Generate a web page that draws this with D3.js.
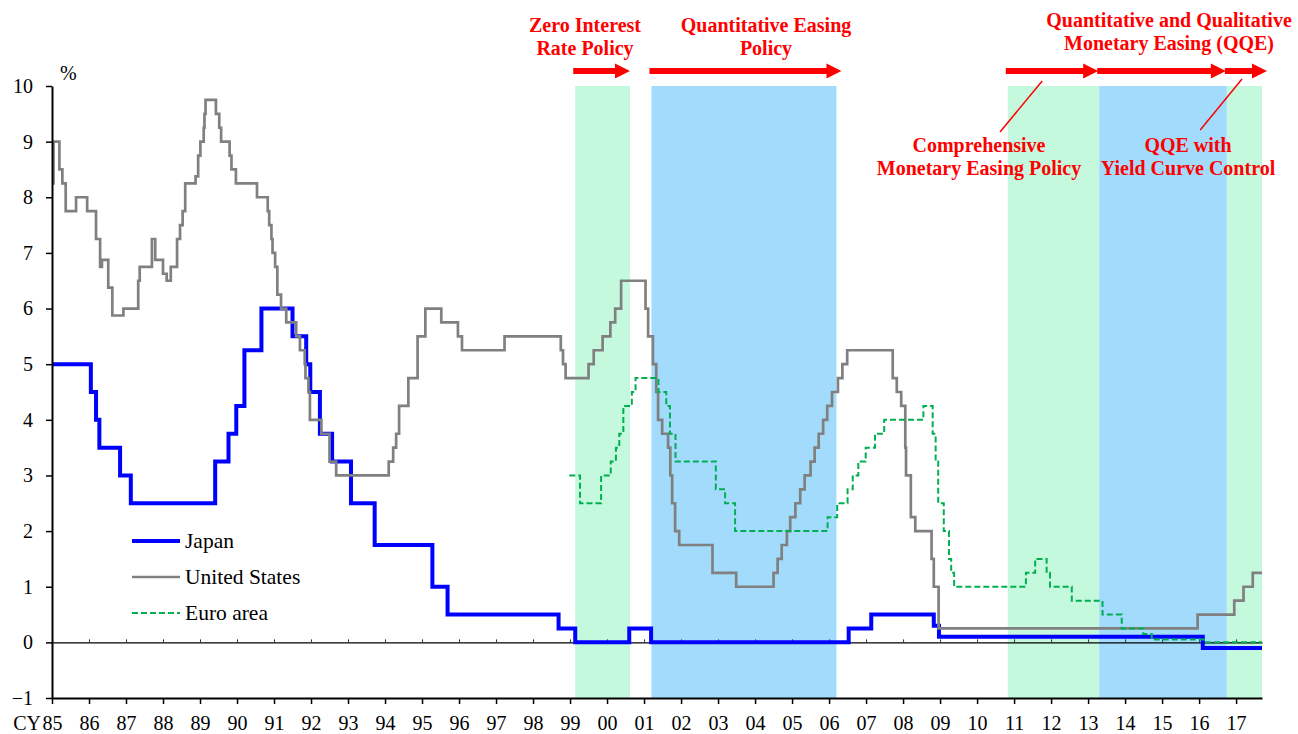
<!DOCTYPE html>
<html>
<head>
<meta charset="utf-8">
<script src="https://cdn.jsdelivr.net/npm/d3@7"></script>
<style>
  body { margin: 0; background: #fff; }
  svg text { font-family: "Liberation Serif", "Times New Roman", serif; }
</style>
</head>
<body>
<div id="chart"></div>
<script>
// policy rates, step series (decimal year of change, rate in %)
var jpDates = [1985.0, 1986.05, 1986.19, 1986.28, 1986.84, 1987.13, 1989.41, 1989.77, 1989.98, 1990.2, 1990.66,
  1991.5, 1991.87, 1991.98, 1992.24, 1992.57, 1993.08, 1993.72, 1995.28, 1995.69, 1998.69, 1999.14, 2000.6,
  2001.19, 2006.53, 2007.14, 2008.83, 2008.97, 2016.1];
var jpRates = [5.0, 4.5, 4.0, 3.5, 3.0, 2.5, 3.25, 3.75, 4.25, 5.25, 6.0,
  5.5, 5.0, 4.5, 3.75, 3.25, 2.5, 1.75, 1.0, 0.5, 0.25, 0.0, 0.25,
  0.0, 0.25, 0.5, 0.3, 0.1, -0.1];

var usDates = [1985.0, 1985.04, 1985.2, 1985.28, 1985.37, 1985.65, 1985.95, 1986.19, 1986.3, 1986.35, 1986.52,
  1986.63, 1986.93, 1987.33, 1987.37, 1987.7, 1987.79, 1988.0, 1988.1, 1988.21, 1988.38, 1988.46, 1988.53,
  1988.6, 1988.88, 1988.95, 1989.01, 1989.1, 1989.12, 1989.15, 1989.43, 1989.52, 1989.57, 1989.8, 1989.85,
  1989.97, 1990.54, 1990.83, 1990.87, 1990.93, 1990.96, 1991.03, 1991.09, 1991.19, 1991.33, 1991.6, 1991.7,
  1991.83, 1991.85, 1991.93, 1991.97, 1992.28, 1992.5, 1992.68, 1994.1, 1994.22, 1994.3, 1994.38, 1994.63,
  1994.88, 1995.09, 1995.52, 1995.97, 1996.08, 1997.23, 1998.75, 1998.81, 1998.88, 1999.5, 1999.64, 1999.88,
  2000.09, 2000.22, 2000.38, 2001.04, 2001.11, 2001.24, 2001.33, 2001.38, 2001.49, 2001.65, 2001.71, 2001.76,
  2001.84, 2001.95, 2002.85, 2003.49, 2004.5, 2004.61, 2004.72, 2004.86, 2004.95, 2005.09, 2005.22, 2005.34,
  2005.5, 2005.61, 2005.72, 2005.84, 2005.95, 2006.08, 2006.24, 2006.36, 2006.49, 2007.72, 2007.83, 2007.95,
  2008.06, 2008.08, 2008.21, 2008.33, 2008.77, 2008.83, 2008.96, 2015.96, 2016.95, 2017.2, 2017.45];
var usRates = [8.25, 9.0, 8.5, 8.25, 7.75, 8.0, 7.75, 7.25, 6.75, 6.875, 6.375,
  5.875, 6.0, 6.5, 6.75, 7.25, 6.875, 6.625, 6.5, 6.75, 7.25, 7.5, 7.75,
  8.25, 8.375, 8.75, 9.0, 9.25, 9.5, 9.75, 9.5, 9.25, 9.0, 8.75, 8.5,
  8.25, 8.0, 7.75, 7.5, 7.25, 7.0, 6.75, 6.25, 6.0, 5.75, 5.5, 5.25,
  5.0, 4.75, 4.5, 4.0, 3.75, 3.25, 3.0, 3.25, 3.5, 3.75, 4.25, 4.75,
  5.5, 6.0, 5.75, 5.5, 5.25, 5.5, 5.25, 5.0, 4.75, 5.0, 5.25, 5.5,
  5.75, 6.0, 6.5, 6.0, 5.5, 5.0, 4.5, 4.0, 3.75, 3.5, 3.0, 2.5,
  2.0, 1.75, 1.25, 1.0, 1.25, 1.5, 1.75, 2.0, 2.25, 2.5, 2.75, 3.0,
  3.25, 3.5, 3.75, 4.0, 4.25, 4.5, 4.75, 5.0, 5.25, 4.75, 4.5, 4.25,
  3.5, 3.0, 2.25, 2.0, 1.5, 1.0, 0.25, 0.5, 0.75, 1.0, 1.25];

var euDates = [1998.98, 1999.27, 1999.84, 2000.1, 2000.24, 2000.33, 2000.44, 2000.67, 2000.77, 2001.39, 2001.6,
  2001.7, 2001.85, 2002.94, 2003.19, 2003.46, 2005.96, 2006.22, 2006.5, 2006.64, 2006.79, 2006.99, 2007.24,
  2007.49, 2008.55, 2008.8, 2008.88, 2008.95, 2009.1, 2009.24, 2009.3, 2009.38, 2011.32, 2011.57, 2011.88,
  2011.97, 2012.56, 2013.39, 2013.91, 2014.49, 2014.72, 2016.16];
var euRates = [3.0, 2.5, 3.0, 3.25, 3.5, 3.75, 4.25, 4.5, 4.75, 4.5, 4.25,
  3.75, 3.25, 2.75, 2.5, 2.0, 2.25, 2.5, 2.75, 3.0, 3.25, 3.5, 3.75,
  4.0, 4.25, 3.75, 3.25, 2.5, 2.0, 1.5, 1.25, 1.0, 1.25, 1.5, 1.25,
  1.0, 0.75, 0.5, 0.25, 0.15, 0.05, 0.0];

var endDate = 2017.7;

// policy periods (shaded)
var policyNames = ["ZIRP", "QE", "CME", "QQE", "QQE with YCC"];
var policyStart = [1999.14, 2001.2, 2010.83, 2013.3, 2016.75];
var policyEnd   = [2000.62, 2006.2, 2013.3, 2016.75, 2017.7];
var policyKind  = ["green", "blue", "green", "blue", "green"];

var yTicks = d3.range(-1, 11);
var xYears = d3.range(1985, 2018);

var width = 1298, height = 734;
var svg = d3.select("#chart").append("svg")
  .attr("width", width)
  .attr("height", height);

var x = d3.scaleLinear().domain([1985, endDate]).range([52, 1262]);
var y = d3.scaleLinear().domain([-1, 10]).range([698, 86]);

var shadeColor = {green: "#c5f9de", blue: "#a2dbfc"};

// shaded periods
svg.selectAll(".shade")
  .data(policyStart)
  .enter().append("rect")
  .attr("x", d => x(d))
  .attr("y", y(10))
  .attr("width", (d, i) => x(policyEnd[i]) - x(d))
  .attr("height", y(-1) - y(10))
  .attr("fill", (d, i) => shadeColor[policyKind[i]]);

// zero line with small year ticks
var zeroAxis = svg.append("g")
  .attr("transform", "translate(0," + y(0) + ")")
  .call(d3.axisBottom(x).tickValues(xYears).tickSize(-3).tickSizeOuter(0).tickFormat(""));
zeroAxis.select(".domain").attr("stroke", "#000").attr("stroke-width", 1.2);
zeroAxis.selectAll(".tick line").attr("stroke", "#333").attr("stroke-width", 1);

// series
function steps(dates, rates) {
  var pts = dates.map((d, i) => [d, rates[i]]);
  pts.push([endDate, rates[rates.length - 1]]);
  return pts;
}
var line = d3.line()
  .x(d => x(d[0]))
  .y(d => y(d[1]))
  .curve(d3.curveStepAfter);

svg.append("path")
  .datum(steps(jpDates, jpRates))
  .attr("d", line)
  .attr("fill", "none")
  .attr("stroke", "#0000ff")
  .attr("stroke-width", 4);

svg.append("path")
  .datum(steps(usDates, usRates))
  .attr("d", line)
  .attr("fill", "none")
  .attr("stroke", "#808080")
  .attr("stroke-width", 2.7);

svg.append("path")
  .datum(steps(euDates, euRates))
  .attr("d", line)
  .attr("fill", "none")
  .attr("stroke", "#00b050")
  .attr("stroke-width", 2)
  .attr("stroke-dasharray", "6,3");

// axes
var yAxis = svg.append("g")
  .attr("transform", "translate(52,0)")
  .call(d3.axisLeft(y).tickValues(yTicks).tickSize(6).tickSizeOuter(0).tickPadding(13));
yAxis.select(".domain").attr("stroke", "#000").attr("stroke-width", 2);
yAxis.selectAll(".tick line").attr("stroke", "#000").attr("stroke-width", 1.5);
yAxis.selectAll("text")
  .style("font-size", "20px")
  .attr("fill", "#000");

var xAxis = svg.append("g")
  .attr("transform", "translate(0,698)")
  .call(d3.axisBottom(x).tickValues(xYears).tickSize(6).tickSizeOuter(0)
    .tickFormat(d => String(d % 100).padStart(2, "0")));
xAxis.select(".domain").attr("stroke", "#000").attr("stroke-width", 2);
xAxis.selectAll(".tick line").attr("stroke", "#000").attr("stroke-width", 1.5);
xAxis.selectAll("text")
  .attr("y", 32)
  .attr("dy", null)
  .style("font-size", "20px")
  .attr("fill", "#000");

svg.append("text")
  .attr("x", x(1985) - 11)
  .attr("y", 730)
  .attr("text-anchor", "end")
  .style("font-size", "20px")
  .text("CY");

svg.append("text")
  .attr("x", 60)
  .attr("y", 80)
  .style("font-size", "20px")
  .text("%");

// legend
var legNames = ["Japan", "United States", "Euro area"];
var legColors = ["#0000ff", "#808080", "#00b050"];
var legWidths = [4, 2.7, 2];
var legDash = [null, null, "6,3"];
var legend = svg.append("g").attr("transform", "translate(132,541)");
legNames.forEach(function(n, i) {
  legend.append("line")
    .attr("x1", 0).attr("x2", 48)
    .attr("y1", i * 36).attr("y2", i * 36)
    .attr("stroke", legColors[i])
    .attr("stroke-width", legWidths[i])
    .attr("stroke-dasharray", legDash[i]);
  legend.append("text")
    .attr("x", 53)
    .attr("y", i * 36 + 7)
    .style("font-size", "21.5px")
    .text(n);
});

// arrows above the shading
var red = "#ff0000";
function arrow(x0, x1, yc) {
  var hl = 15, hw = 7.5, sw = 3;
  return "M" + x0 + "," + (yc - sw) + "L" + (x1 - hl) + "," + (yc - sw) +
    "L" + (x1 - hl) + "," + (yc - hw) + "L" + x1 + "," + yc +
    "L" + (x1 - hl) + "," + (yc + hw) + "L" + (x1 - hl) + "," + (yc + sw) +
    "L" + x0 + "," + (yc + sw) + "Z";
}
svg.selectAll(".arrow")
  .data(policyStart)
  .enter().append("path")
  .attr("d", (d, i) => arrow(x(d) - 2, x(policyEnd[i]) + (i == 1 || i == 4 ? 5 : 0) - (i == 2 || i == 3 ? 1 : 0), 71))
  .attr("fill", red);

// annotations
var notes = [
  {lines: ["Zero Interest", "Rate Policy"], cx: 585, y0: 32},
  {lines: ["Quantitative Easing", "Policy"], cx: 766, y0: 32},
  {lines: ["Quantitative and Qualitative", "Monetary Easing (QQE)"], cx: 1169, y0: 27},
  {lines: ["Comprehensive", "Monetary Easing Policy"], cx: 979, y0: 152},
  {lines: ["QQE with", "Yield Curve Control"], cx: 1188, y0: 152}
];
notes.forEach(function(n) {
  n.lines.forEach(function(t, j) {
    svg.append("text")
      .attr("x", n.cx)
      .attr("y", n.y0 + j * 23)
      .attr("text-anchor", "middle")
      .style("font-size", "20px")
      .style("font-weight", "bold")
      .attr("fill", red)
      .text(t);
  });
});

// leader lines
var leaders = [[2011.76, 81, 2010.62, 132], [2017.16, 79, 2016.03, 130]];
leaders.forEach(function(l) {
  svg.append("line")
    .attr("x1", x(l[0])).attr("y1", l[1])
    .attr("x2", x(l[2])).attr("y2", l[3])
    .attr("stroke", red)
    .attr("stroke-width", 1.5);
});
</script>
</body>
</html>
